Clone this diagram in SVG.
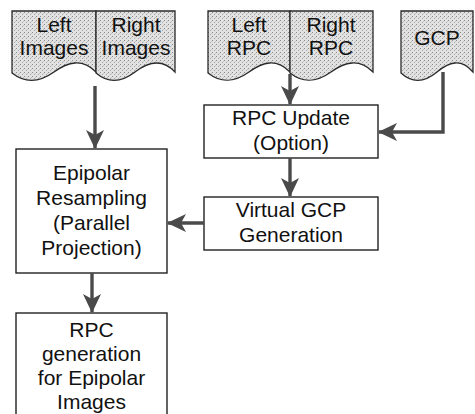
<svg xmlns="http://www.w3.org/2000/svg" width="475" height="414" viewBox="0 0 475 414">
  <defs>
    <!-- stippled grey fill for the document symbols -->
    <pattern id="stipple" width="4" height="4" patternUnits="userSpaceOnUse">
      <rect width="4" height="4" fill="#e2e2e2"/>
      <rect x="0" y="0" width="1" height="1" fill="#8a8a8a"/>
      <rect x="2" y="2" width="1" height="1" fill="#a8a8a8"/>
      <rect x="3" y="1" width="1" height="1" fill="#c4c4c4"/>
    </pattern>
    <marker id="head" viewBox="0 0 19 18" refX="18" refY="9" markerWidth="19" markerHeight="18" markerUnits="userSpaceOnUse" orient="auto">
      <path d="M0,0 L19,9 L0,18 L5,9 Z" fill="#4a4a4a"/>
    </marker>
  </defs>
  <style>
    .doc { fill: url(#stipple); stroke: #2a2a2a; stroke-width: 1.3; }
    .box { fill: #ffffff; stroke: #222; stroke-width: 1.4; }
    .lbl { font-family: "Liberation Sans", Arial, sans-serif; font-size: 21px; fill: #111; text-anchor: middle; }
    .conn { fill: none; stroke: #4a4a4a; stroke-width: 3.4; marker-end: url(#head); }
  </style>
  <rect width="475" height="414" fill="#ffffff"/>

  <!-- input documents -->
  <g id="left-images">
    <path class="doc" d="M12,11 H96 V72 C82,58 68,62 54,72 C40,82 26,84 12,73 Z"/>
    <text class="lbl" x="54" y="32">Left</text>
    <text class="lbl" x="54" y="55">Images</text>
  </g>
  <g id="right-images">
    <path class="doc" d="M96,11 H175 V72 C162,58 148,62 135,72 C122,82 109,84 96,73 Z"/>
    <text class="lbl" x="136" y="32">Right</text>
    <text class="lbl" x="136" y="55">Images</text>
  </g>
  <g id="left-rpc">
    <path class="doc" d="M208,11 H290 V72 C276,58 263,62 249,72 C235,82 222,84 208,73 Z"/>
    <text class="lbl" x="249" y="32">Left</text>
    <text class="lbl" x="249" y="55">RPC</text>
  </g>
  <g id="right-rpc">
    <path class="doc" d="M290,11 H373 V72 C359,58 345,62 331,72 C317,82 304,84 290,73 Z"/>
    <text class="lbl" x="331" y="32">Right</text>
    <text class="lbl" x="331" y="55">RPC</text>
  </g>
  <g id="gcp">
    <path class="doc" d="M401,11 H473 V72 C461,58 449,62 437,72 C425,82 413,84 401,73 Z"/>
    <text class="lbl" x="437" y="45">GCP</text>
  </g>

  <!-- process boxes -->
  <g id="rpc-update">
    <rect class="box" x="204" y="105" width="174" height="53"/>
    <text class="lbl" x="291" y="125">RPC Update</text>
    <text class="lbl" x="291" y="150">(Option)</text>
  </g>
  <g id="virtual-gcp">
    <rect class="box" x="204" y="197" width="174" height="53"/>
    <text class="lbl" x="291" y="217">Virtual GCP</text>
    <text class="lbl" x="291" y="242">Generation</text>
  </g>
  <g id="epipolar-resampling">
    <rect class="box" x="16" y="149" width="151" height="124"/>
    <text class="lbl" x="91.5" y="180">Epipolar</text>
    <text class="lbl" x="91.5" y="205">Resampling</text>
    <text class="lbl" x="91.5" y="230">(Parallel</text>
    <text class="lbl" x="91.5" y="255">Projection)</text>
  </g>
  <g id="rpc-generation">
    <rect class="box" x="16" y="313" width="151" height="110"/>
    <text class="lbl" x="91.5" y="337">RPC</text>
    <text class="lbl" x="91.5" y="361">generation</text>
    <text class="lbl" x="91.5" y="385">for Epipolar</text>
    <text class="lbl" x="91.5" y="409">Images</text>
  </g>

  <!-- connectors -->
  <g id="connectors">
    <path class="conn" d="M95,86 V148"/>
    <path class="conn" d="M290,74 V104"/>
    <path class="conn" d="M443,72 V132 H379"/>
    <path class="conn" d="M290,158 V196"/>
    <path class="conn" d="M204,223 H168"/>
    <path class="conn" d="M92,273 V312"/>
  </g>
</svg>
